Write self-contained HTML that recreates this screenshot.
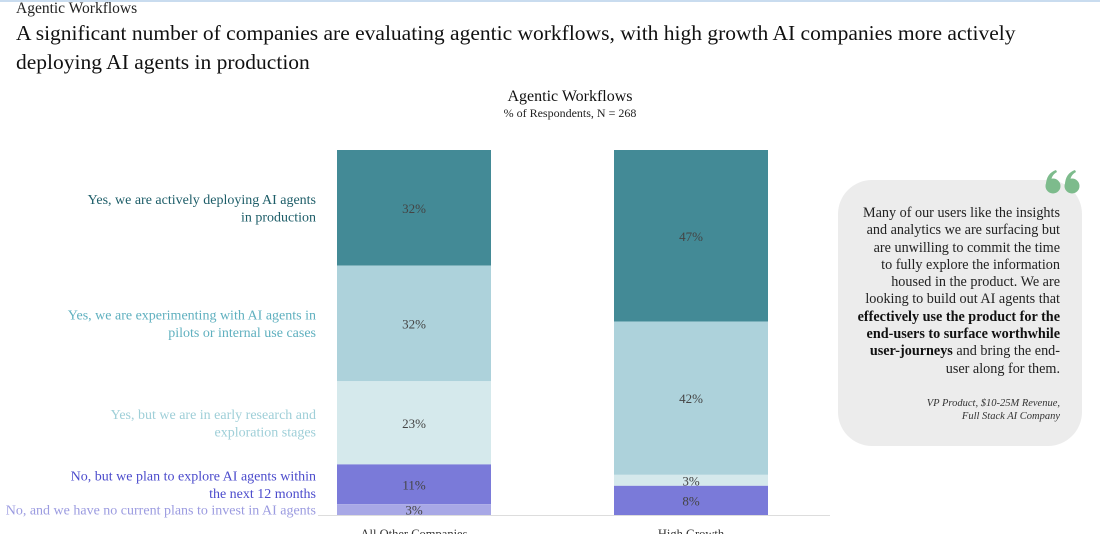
<!DOCTYPE html>
<html><head><meta charset="utf-8">
<style>
html,body{margin:0;padding:0;background:#fff;}
body{width:1100px;height:534px;overflow:hidden;position:relative;font-family:"Liberation Serif",serif;color:#111;}
#topline{position:absolute;left:0;top:0;width:1100px;height:2px;background:#c9dcef;}
#kicker{position:absolute;left:16px;top:0px;font-size:15.5px;color:#222;}
#headline{position:absolute;left:16px;top:19px;font-size:21.5px;line-height:29px;color:#111;width:1060px;}
#quote{position:absolute;left:838px;top:180px;width:244px;height:266px;background:#ececec;border-radius:34px;}
#quote-text{position:absolute;right:22px;top:25px;text-align:right;font-size:14.2px;line-height:17.3px;color:#222;white-space:nowrap;}
#quote-text b{font-weight:bold;color:#111;}
#quote-src{position:absolute;right:22px;top:217px;text-align:right;font-size:10.5px;line-height:13px;font-style:italic;color:#333;}
#qmark{position:absolute;left:1044px;top:170px;}
</style></head>
<body>
<div id="topline"></div>
<div id="kicker">Agentic Workflows</div>
<div id="headline">A significant number of companies are evaluating agentic workflows, with high growth AI companies more actively deploying AI agents in production</div>
<svg id="chart" width="830" height="534" style="position:absolute;left:0;top:0;overflow:visible" font-family="Liberation Serif, serif"></svg>
<div id="quote">
  <div id="quote-text">Many of our users like the insights<br>and analytics we are surfacing but<br>are unwilling to commit the time<br>to fully explore the information<br>housed in the product. We are<br>looking to build out AI agents that<br><b>effectively use the product for the</b><br><b>end-users to surface worthwhile</b><br><b>user-journeys</b> and bring the end-<br>user along for them.</div>
  <div id="quote-src">VP Product, $10-25M Revenue,<br>Full Stack AI Company</div>
</div>
<svg id="qmark" width="40" height="26" viewBox="0 0 40 26">
  <g fill="#7dbb8c">
    <circle cx="9" cy="16" r="7.5"/>
    <path d="M2 15 C2 7 6 2 12 0 L13 2 C9 4 7 8 7 12 Z"/>
    <circle cx="28" cy="16" r="7.5"/>
    <path d="M21 15 C21 7 25 2 31 0 L32 2 C28 4 26 8 26 12 Z"/>
  </g>
</svg>
<script>
const categories = ["All Other Companies", "High Growth"];
const seriesNames = [
  ["Yes, we are actively deploying AI agents", "in production"],
  ["Yes, we are experimenting with AI agents in", "pilots or internal use cases"],
  ["Yes, but we are in early research and", "exploration stages"],
  ["No, but we plan to explore AI agents within", "the next 12 months"],
  ["No, and we have no current plans to invest in AI agents"]
];
const allOtherValues = [32, 32, 23, 11, 3];
const highGrowthValues = [47, 42, 3, 8, 0];
const chartTitle = "Agentic Workflows";
const chartSubtitle = "% of Respondents, N = 268";

const fills = ["#438a96", "#add2db", "#d5e9ec", "#7a7ad9", "#a8a8e6"];
const labelColors = ["#1d5d68", "#5fb0bf", "#9fcfd8", "#4b4bcc", "#9b9be0"];
const svg = document.getElementById('chart');
const NS = "http://www.w3.org/2000/svg";
const yTop = 150, yBot = 515, barW = 154;
const barX = [337, 614];
function mk(tag, attrs, text){
  const e = document.createElementNS(NS, tag);
  for (const k in attrs) e.setAttribute(k, attrs[k]);
  if (text !== undefined) e.textContent = text;
  svg.appendChild(e); return e;
}
function yScale(cum, total){ return yTop + (yBot - yTop) * cum / total; }

let t = mk('text', {x:570, y:101, 'text-anchor':'middle', 'font-size':16, fill:'#111'}, chartTitle);


t = mk('text', {x:570, y:117, 'text-anchor':'middle', 'font-size':12, fill:'#222'}, chartSubtitle);



const allSeries = [allOtherValues, highGrowthValues];
const bar1Centers = [];
allSeries.forEach((vals, bi) => {
  const total = vals.reduce((a,b)=>a+b,0);
  let cum = 0;
  vals.forEach((v, si) => {
    const y0 = yScale(cum, total), y1 = yScale(cum + v, total);
    cum += v;
    if (bi === 0) bar1Centers.push((y0 + y1) / 2);
    if (v <= 0) return;
    const r = mk('rect', {x:barX[bi], y:y0, width:barW, height:y1 - y0, fill:fills[si]});
    
    
    const lbl = mk('text', {x:barX[bi] + barW/2, y:(y0+y1)/2 + 5, 'text-anchor':'middle', 'font-size':13, fill:'#444'}, v + '%');
    
    
  });
});
const ax = mk('line', {x1:318, x2:830, y1:515.5, y2:515.5, stroke:'#ddd', 'stroke-width':1});


categories.forEach((c, i) => {
  const e = mk('text', {x:barX[i] + barW/2, y:538, 'text-anchor':'middle', 'font-size':12.5, fill:'#333'}, c);
  
  
});
seriesNames.forEach((lines, si) => {
  const cy = bar1Centers[si];
  const n = lines.length;
  lines.forEach((ln, li) => {
    const y = cy + (li - (n-1)/2) * 17.5 + 5;
    const e = mk('text', {x:316, y:y, 'text-anchor':'end', 'font-size':14, fill:labelColors[si]}, ln);
    
    
  });
});
</script>
</body></html>
